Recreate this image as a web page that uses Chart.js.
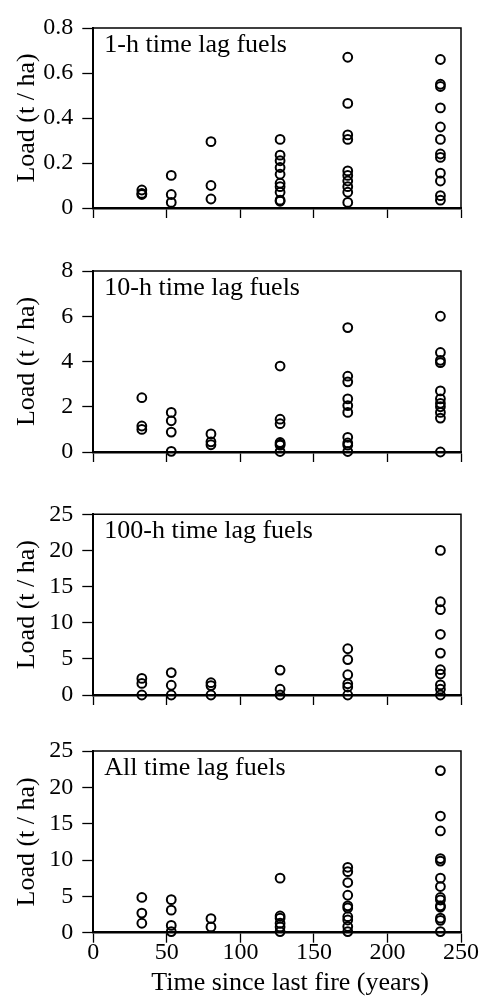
<!DOCTYPE html>
<html>
<head>
<meta charset="utf-8">
<script src="https://cdn.jsdelivr.net/npm/chart.js@4.4.1/dist/chart.umd.min.js"></script>
<style>
  html, body { margin: 0; padding: 0; background: #fff; }
  body { width: 480px; height: 1004px; position: relative; overflow: hidden; }
  .panel { position: absolute; left: 0; width: 480px; }
</style>
</head>
<body>
<div class="panel" id="w1" style="top:0;height:240px"><canvas id="c1"></canvas></div>
<div class="panel" id="w2" style="top:240px;height:240px"><canvas id="c2"></canvas></div>
<div class="panel" id="w3" style="top:480px;height:240px"><canvas id="c3"></canvas></div>
<div class="panel" id="w4" style="top:720px;height:284px"><canvas id="c4"></canvas></div>
<script>
// ---- Data ----
const years = [33, 53, 80, 127, 173, 236];   // time since last fire (years), one per site
const xTicks = [0, 50, 100, 150, 200, 250];

const panelLabels = ["1-h time lag fuels", "10-h time lag fuels", "100-h time lag fuels", "All time lag fuels"];
const xTitle = "Time since last fire (years)";
const yTitle = "Load (t / ha)";
const yMax = [0.8, 8, 25, 25];
const yStep = [0.2, 2, 5, 5];

const load1h = [
  [0.08, 0.065, 0.06],
  [0.145, 0.06, 0.025],
  [0.295, 0.1, 0.04],
  [0.305, 0.235, 0.21, 0.18, 0.15, 0.11, 0.095, 0.07, 0.035, 0.03],
  [0.67, 0.465, 0.325, 0.305, 0.165, 0.145, 0.12, 0.095, 0.07, 0.025],
  [0.66, 0.55, 0.54, 0.445, 0.36, 0.305, 0.24, 0.225, 0.155, 0.12, 0.055, 0.035]
];
const load10h = [
  [2.4, 1.15, 1.0],
  [1.75, 1.38, 0.88, 0.03],
  [0.8, 0.45, 0.32],
  [3.8, 1.45, 1.25, 0.42, 0.35, 0.3, 0.02],
  [5.5, 3.35, 3.1, 2.35, 2.05, 1.75, 0.65, 0.4, 0.3, 0.02],
  [6.0, 4.4, 4.05, 3.95, 2.7, 2.35, 2.15, 2.0, 1.75, 1.5, 0.0]
];
const load100h = [
  [2.3, 1.6, 0],
  [3.1, 1.35, 0],
  [1.7, 1.3, 0],
  [3.45, 0.8, 0],
  [6.4, 4.9, 2.8, 1.55, 1.1, 0],
  [20, 12.9, 11.8, 8.4, 5.8, 3.5, 2.9, 1.4, 0.8, 0]
];
const loadAll = [
  [4.85, 2.7, 1.3],
  [4.55, 3.1, 1.0, 0.15],
  [1.95, 0.8],
  [7.5, 2.3, 2.0, 1.3, 0.8, 0.15],
  [9.0, 8.4, 6.9, 5.15, 3.7, 3.4, 2.2, 1.75, 0.85, 0.15],
  [22.3, 16.05, 14.0, 10.2, 9.85, 7.5, 6.35, 4.85, 4.5, 3.7, 3.5, 2.0, 1.7, 0.15]
];
const panelData = [load1h, load10h, load100h, loadAll];

// ---- Layout / style ----
const SERIF = '"Liberation Serif", "Times New Roman", serif';
const layoutTop = [28, 31, 34.3, 31];
const xAxisH = [32, 28, 25, 71.3];

const framePlugin = {
  id: 'frame',
  beforeDatasetsDraw(chart, args, opts) {
    const { ctx, chartArea: a } = chart;
    ctx.save();
    ctx.strokeStyle = '#000';
    ctx.lineWidth = 1.5;
    ctx.beginPath();
    ctx.moveTo(a.left, a.top);
    ctx.lineTo(a.right, a.top);
    ctx.lineTo(a.right, a.bottom);
    ctx.stroke();
    ctx.fillStyle = '#000';
    ctx.font = '26px ' + SERIF;
    ctx.textBaseline = 'alphabetic';
    ctx.textAlign = 'left';
    ctx.fillText(opts.label, a.left + 11, a.top + 24);
    if (opts.xTitle) {
      // axis title, slightly right of the plot centre as in the original figure
      ctx.textAlign = 'center';
      ctx.textBaseline = 'middle';
      ctx.fillText(opts.xTitle, (a.left + a.right) / 2 + 13, chart.height - 21);
    }
    ctx.restore();
  }
};

function toPoints(cols) {
  const pts = [];
  cols.forEach((vals, i) => vals.forEach(v => pts.push({ x: years[i], y: v })));
  return pts;
}

function makeChart(idx) {
  const showX = idx === 3;
  const ctx = document.getElementById('c' + (idx + 1));
  return new Chart(ctx, {
    type: 'scatter',
    data: {
      datasets: [{
        data: toPoints(panelData[idx]),
        pointRadius: 4.4,
        pointBorderWidth: 2,
        pointBorderColor: '#000',
        pointBackgroundColor: 'rgba(0,0,0,0)',
        pointHoverRadius: 4.4,
        clip: false
      }]
    },
    options: {
      animation: false,
      responsive: true,
      maintainAspectRatio: false,
      layout: { padding: { top: layoutTop[idx], right: 19, bottom: 0, left: 0 } },
      plugins: {
        legend: { display: false },
        tooltip: { enabled: false },
        frame: { label: panelLabels[idx], xTitle: showX ? xTitle : null }
      },
      scales: {
        x: {
          type: 'linear',
          min: 0, max: 250,
          afterBuildTicks: s => { s.ticks = xTicks.map(v => ({ value: v })); },
          ticks: { display: showX, color: '#000', font: { family: SERIF, size: 24 }, padding: -4, maxRotation: 0 },
          grid: { drawOnChartArea: false, drawTicks: true, tickLength: 10, tickColor: '#000', tickWidth: 1.3 },
          border: { display: true, color: '#000', width: 2.5 },
          title: { display: false },
          afterFit: s => { s.height = xAxisH[idx]; }
        },
        y: {
          type: 'linear',
          min: 0, max: yMax[idx],
          ticks: { stepSize: yStep[idx], color: '#000', font: { family: SERIF, size: 24 }, padding: 9 },
          grid: { drawOnChartArea: false, drawTicks: true, tickLength: 11, tickColor: '#000', tickWidth: 1.3 },
          border: { display: true, color: '#000', width: 2 },
          title: { display: true, text: yTitle, color: '#000',
                   font: { family: SERIF, size: 26 }, padding: { top: 12, bottom: 0 } },
          afterFit: s => { s.width = 93.3; }
        }
      }
    },
    plugins: [framePlugin]
  });
}

[0, 1, 2, 3].forEach(makeChart);
</script>
</body>
</html>
